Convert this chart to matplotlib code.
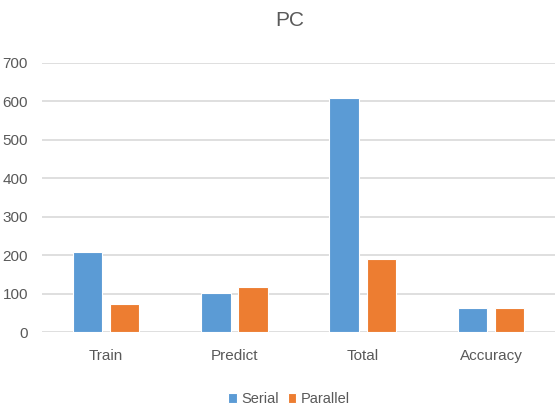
import numpy as np
import matplotlib
matplotlib.use("Agg")
import matplotlib.pyplot as plt

plt.rcParams['font.family'] = ['Liberation Sans', 'DejaVu Sans']

categories = ["Train", "Predict", "Total", "Accuracy"]
serial = [209, 101, 608, 62]
parallel = [73, 117, 190, 62]

BLUE = "#5b9bd5"
ORANGE = "#ed7d31"
TEXT = "#595959"
GRID = "#d9d9d9"

fig = plt.figure(figsize=(5.58, 4.08), dpi=100, facecolor="white")
ax = fig.add_axes([0.075, 0.186, 0.92, 0.66])

x = np.arange(len(categories))
w = 0.23
gap = 0.06
ax.bar(x - (w + gap) / 2, serial, w, color=BLUE, edgecolor="white", linewidth=0.8,
       label="Serial", zorder=3)
ax.bar(x + (w + gap) / 2, parallel, w, color=ORANGE, edgecolor="white", linewidth=0.8,
       label="Parallel", zorder=3)

ax.set_xlim(-0.5, len(categories) - 0.5)
ax.set_ylim(0, 700)
ax.set_yticks(range(0, 701, 100))
ax.set_xticks(x)
ax.set_xticklabels(categories)
ax.grid(axis="y", color=GRID, linewidth=1.2, zorder=0)
for s in ax.spines.values():
    s.set_visible(False)
ax.tick_params(axis="both", length=0, colors=TEXT, labelsize=11)
ax.tick_params(axis="x", pad=12)
ax.tick_params(axis="y", pad=10)

fig.text(0.52, 0.95, "PC", ha="center", va="center", fontsize=15, color=TEXT)
fig.legend(loc="center", bbox_to_anchor=(0.518, 0.022), ncol=2, frameon=False,
           fontsize=10.5, labelcolor=TEXT, handlelength=0.6, handleheight=0.6,
           handletextpad=0.3, columnspacing=0.6)

fig.savefig("out.png", dpi=100, facecolor="white")
